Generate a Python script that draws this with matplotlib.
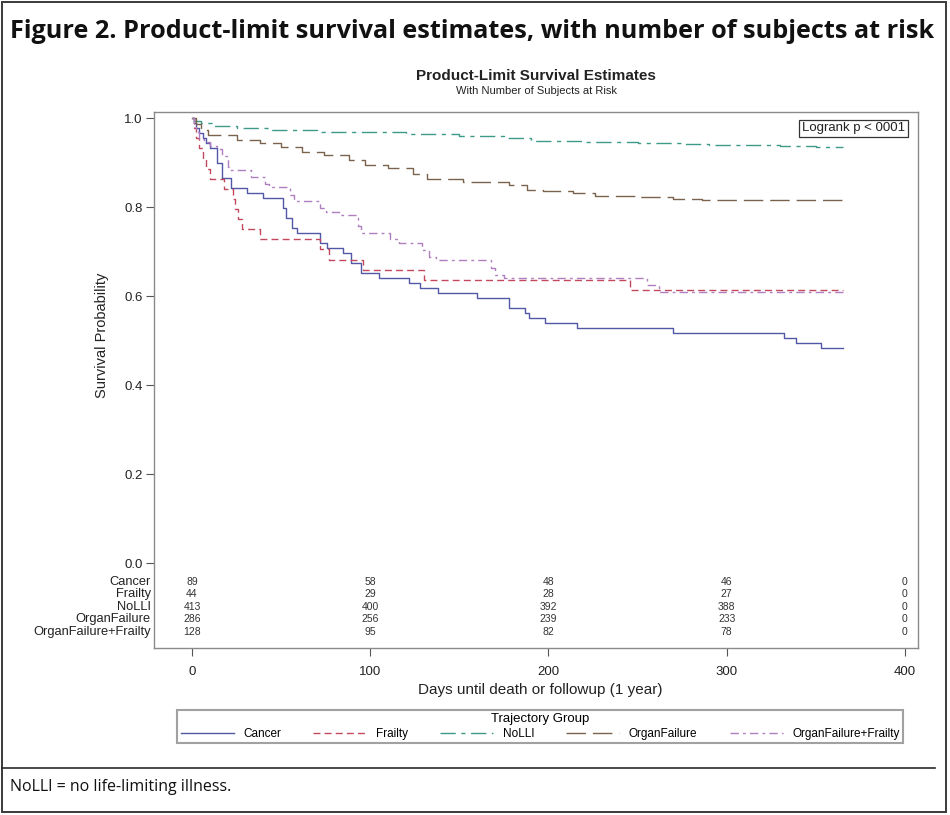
import matplotlib
matplotlib.use('Agg')
import matplotlib.pyplot as plt
from matplotlib.lines import Line2D
from matplotlib.patches import Rectangle
from matplotlib.ticker import FormatStrFormatter
import matplotlib.transforms as mtransforms

plt.rcParams['font.family'] = ['Liberation Sans', 'DejaVu Sans']

# ---------------- data ----------------
groups = ['Cancer', 'Frailty', 'NoLLI', 'OrganFailure', 'OrganFailure+Frailty']
end_day = 365

cancer_days = [0, 1, 2, 4, 6, 8, 10, 14, 17, 22, 31, 40, 51, 53, 56, 59, 72, 76, 85, 89,
               95, 105, 122, 128, 138, 160, 178, 187, 189, 198, 216, 270, 332, 339, 353]
cancer_surv = [1.000, 0.989, 0.978, 0.966, 0.955, 0.944, 0.933, 0.899, 0.865, 0.843, 0.831,
               0.820, 0.798, 0.775, 0.753, 0.742, 0.719, 0.708, 0.697, 0.674, 0.652, 0.640,
               0.629, 0.618, 0.607, 0.596, 0.573, 0.562, 0.551, 0.539, 0.528, 0.517, 0.506,
               0.494, 0.483]

frailty_days = [0, 1, 2, 4, 6, 8, 10, 18, 23, 24, 26, 28, 38, 72, 77, 96, 130, 246]
frailty_surv = [1.000, 0.977, 0.955, 0.932, 0.909, 0.886, 0.864, 0.841, 0.818, 0.795, 0.773,
                0.750, 0.727, 0.705, 0.682, 0.659, 0.636, 0.614]

nolli_days = [0, 1, 5, 12, 25, 45, 70, 120, 150, 175, 190, 220, 250, 275, 290, 330, 350]
nolli_surv = [1.000, 0.993, 0.988, 0.983, 0.978, 0.973, 0.969, 0.964, 0.959, 0.954, 0.949,
              0.947, 0.944, 0.942, 0.939, 0.937, 0.935]

of_days = [0, 2, 5, 9, 25, 38, 50, 62, 74, 88, 97, 110, 124, 132, 152, 178, 188, 197, 214,
           226, 250, 270, 286]
of_surv = [1.000, 0.986, 0.972, 0.962, 0.951, 0.944, 0.934, 0.923, 0.916, 0.906, 0.895, 0.888,
           0.874, 0.864, 0.857, 0.850, 0.839, 0.836, 0.832, 0.825, 0.822, 0.818, 0.815]

ofp_days = [0, 1, 2, 4, 7, 10, 14, 17, 20, 21, 33, 41, 43, 55, 57, 72, 75, 83, 93, 95, 111,
            116, 129, 133, 137, 168, 170, 175, 255, 262]
ofp_surv = [1.000, 0.984, 0.969, 0.953, 0.945, 0.938, 0.930, 0.914, 0.891, 0.883, 0.867, 0.852,
            0.844, 0.828, 0.813, 0.797, 0.789, 0.781, 0.758, 0.742, 0.727, 0.719, 0.703, 0.688,
            0.680, 0.664, 0.648, 0.641, 0.625, 0.609]

risk_days = [0, 100, 200, 300, 400]
cancer_risk = [89, 58, 48, 46, 0]
frailty_risk = [44, 29, 28, 27, 0]
nolli_risk = [413, 400, 392, 388, 0]
of_risk = [286, 256, 239, 233, 0]
ofp_risk = [128, 95, 82, 78, 0]

x_ticks = [0, 100, 200, 300, 400]
y_ticks = [0.0, 0.2, 0.4, 0.6, 0.8, 1.0]

# ---------------- styles ----------------
colors = ['#5257a6', '#c2485e', '#3d9a88', '#7a624c', '#b07fbf']
dashes = ['-', (0, (5, 3)), (0, (11, 4, 3, 4)), (0, (14, 5)), (0, (6, 3, 2, 3))]

W, H = 950, 815
fig = plt.figure(figsize=(W / 100, H / 100), dpi=100)

def fx(px):
    return px / W

def fy(py):
    return 1 - py / H

# outer frame and separator
fig.patches.append(Rectangle((fx(2), fy(812)), fx(946) - fx(2), fy(2) - fy(812),
                             transform=fig.transFigure, fill=False, ec='#3a3a3a', lw=1.4))
fig.lines.append(Line2D([fx(2), fx(935)], [fy(768), fy(768)], transform=fig.transFigure,
                        color='#2a2a2a', lw=1.2))

# main axes
ax = fig.add_axes([fx(154), fy(648), fx(918) - fx(154), (648 - 112) / H])
ax.set_xlim(-21.3, 407.3)
ax.set_ylim(-0.191, 1.0135)

series_days = [cancer_days, frailty_days, nolli_days, of_days, ofp_days]
series_surv = [cancer_surv, frailty_surv, nolli_surv, of_surv, ofp_surv]
for name, d, s, c, ls in zip(groups, series_days, series_surv, colors, dashes):
    ax.step(d + [end_day], s + [s[-1]], where='post', color=c, linestyle=ls, lw=1.0, label=name)

ax.set_xticks(x_ticks)
ax.set_yticks(y_ticks)
ax.yaxis.set_major_formatter(FormatStrFormatter('%.1f'))
ax.tick_params(axis='both', direction='out', length=6, width=0.8, color='#555555',
               labelsize=9.5, labelcolor='#222222')
ax.tick_params(axis='y', pad=2)
ax.tick_params(axis='x', pad=7)
for sp in ax.spines.values():
    sp.set_color('#8a8a8a')
    sp.set_linewidth(1.0)

# at-risk table
row_y = [-0.042, -0.070, -0.098, -0.126, -0.154]
risks = [cancer_risk, frailty_risk, nolli_risk, of_risk, ofp_risk]
trans_lbl = mtransforms.blended_transform_factory(ax.transAxes, ax.transData)
for name, yr, rk in zip(groups, row_y, risks):
    ax.text(-0.004, yr, name, transform=trans_lbl, ha='right', va='center', fontsize=9.3,
            color='#222222', clip_on=False)
    for dd, n in zip(risk_days, rk):
        ax.text(dd, yr, str(n), ha='center', va='center', fontsize=7.5, color='#333333')

# logrank box
fig.text(fx(853.5), fy(128.5), 'Logrank p < 0001', ha='center', va='center', fontsize=9.5,
         color='#222222',
         bbox=dict(boxstyle='square,pad=0.2', fc='white', ec='#333333', lw=0.9))

# labels and titles
fig.text(fx(102), fy(335), 'Survival Probability', rotation=90, ha='center', va='center',
         fontsize=10.5, color='#222222')
fig.text(fx(540), fy(690), 'Days until death or followup (1 year)', ha='center', va='center',
         fontsize=11, color='#222222')
fig.text(fx(536), fy(76), 'Product-Limit Survival Estimates', ha='center', va='center',
         fontsize=11, fontweight='bold', color='#222222')
fig.text(fx(536), fy(91), 'With Number of Subjects at Risk', ha='center', va='center',
         fontsize=8, color='#222222')

t_title = fig.text(fx(10), fy(32),
                   'Figure 2. Product-limit survival estimates, with number of subjects at risk',
                   ha='left', va='center', fontsize=15, fontweight='bold',
                   family=['Open Sans', 'DejaVu Sans'], color='#111111')
t_foot = fig.text(fx(10), fy(787), 'NoLLI = no life-limiting illness.', ha='left',
                  va='center', fontsize=11, family=['Open Sans', 'DejaVu Sans'],
                  color='#111111')

# legend
handles = [Line2D([], [], color=c, linestyle=ls, lw=1.0) for c, ls in zip(colors, dashes)]
leg = fig.legend(handles, groups, title='Trajectory Group', ncol=5, loc='center',
                 bbox_to_anchor=(fx(177), fy(746), fx(903) - fx(177), fy(707) - fy(746)),
                 mode='expand', fontsize=8.5, title_fontsize=9.5, frameon=True,
                 fancybox=False, edgecolor='#8a8a8a', handlelength=4.5, handletextpad=0.8,
                 borderaxespad=0, borderpad=0.3, labelspacing=0.2)
leg.get_frame().set_linewidth(1.5)

# fit title & footnote widths
fig.canvas.draw()
r = fig.canvas.get_renderer()
for t, target in [(t_title, 927), (t_foot, 222)]:
    w = t.get_window_extent(r).width
    t.set_fontsize(t.get_fontsize() * target / w)

fig.savefig('out.png', dpi=100)
